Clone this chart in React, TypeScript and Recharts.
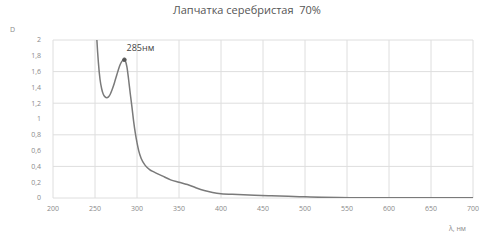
import React from 'react';
import { LineChart, Line, XAxis, YAxis, CartesianGrid, ReferenceDot } from 'recharts';

const wavelengths = [
  250, 252, 254, 256, 258, 260, 262, 264, 266, 268, 270, 272, 274, 276, 278, 280, 282, 284, 285, 286, 288,
  290, 292, 294, 296, 298, 300, 302, 305, 310, 315, 320, 330, 340, 350, 360, 370, 380, 390, 400, 420, 440,
  460, 480, 500, 520, 540, 560, 600, 650, 700,
];
const absorbance = [
  2.6, 2.05, 1.72, 1.5, 1.38, 1.31, 1.28, 1.27, 1.28, 1.31, 1.36, 1.42, 1.49, 1.56, 1.63, 1.69, 1.73, 1.75, 1.75,
  1.74, 1.66, 1.5, 1.32, 1.15, 0.97, 0.82, 0.7, 0.6, 0.5, 0.41, 0.36, 0.33, 0.28, 0.23, 0.2, 0.17, 0.13, 0.095,
  0.07, 0.055, 0.045, 0.035, 0.028, 0.022, 0.015, 0.008, 0.005, 0.004, 0.003, 0.002, 0.002,
];
const xTicks = [200, 250, 300, 350, 400, 450, 500, 550, 600, 650, 700];
const yTicks = [0, 0.2, 0.4, 0.6, 0.8, 1, 1.2, 1.4, 1.6, 1.8, 2];
const peak = { x: 285, y: 1.75, label: '285нм' };

const data = wavelengths.map((w, i) => ({ w, d: absorbance[i] }));

const font = '"Open Sans", "Liberation Sans", sans-serif';
const tickStyle = { fontSize: 7, fill: '#8a8a8a', fontFamily: font };

const App: React.FC = () => {
  return (
    <div style={{ position: 'absolute', left: 0, top: 0, width: 486, height: 241, background: '#fff', fontFamily: font }}>
      <div style={{ position: 'absolute', left: 0, width: 486, top: 2, textAlign: 'center', fontSize: 11, color: '#555', paddingLeft: 4 }}>
        Лапчатка серебристая&nbsp; 70%
      </div>
      <div style={{ position: 'absolute', left: 10, top: 25, fontSize: 7, color: '#8a8a8a' }}>D</div>
      <div style={{ position: 'absolute', left: 449, top: 224, fontSize: 7, color: '#8a8a8a' }}>λ, нм</div>
      <LineChart width={486} height={241} data={data} margin={{ top: 40, right: 13, bottom: 23, left: 0 }}>
        <CartesianGrid stroke="#dedede" strokeWidth={1} />
        <XAxis
          dataKey="w"
          type="number"
          domain={[200, 700]}
          ticks={xTicks}
          axisLine={false}
          tickLine={false}
          tick={tickStyle}
          height={20}
          tickMargin={2}
        />
        <YAxis
          type="number"
          domain={[0, 2]}
          allowDataOverflow
          ticks={yTicks}
          axisLine={false}
          tickLine={false}
          tick={tickStyle}
          width={53}
          tickMargin={6}
          tickFormatter={(v: number) => String(v).replace('.', ',')}
        />
        <Line
          dataKey="d"
          type="monotone"
          stroke="#7a7a7a"
          strokeWidth={1.5}
          dot={false}
          isAnimationActive={false}
        />
        <ReferenceDot
          x={peak.x}
          y={peak.y}
          r={1.8}
          fill="#555"
          stroke="#555"
          label={{ value: peak.label, position: 'top', dx: 16, dy: -2, fontSize: 9, fill: '#444', fontFamily: font }}
        />
      </LineChart>
    </div>
  );
};

export default App;
